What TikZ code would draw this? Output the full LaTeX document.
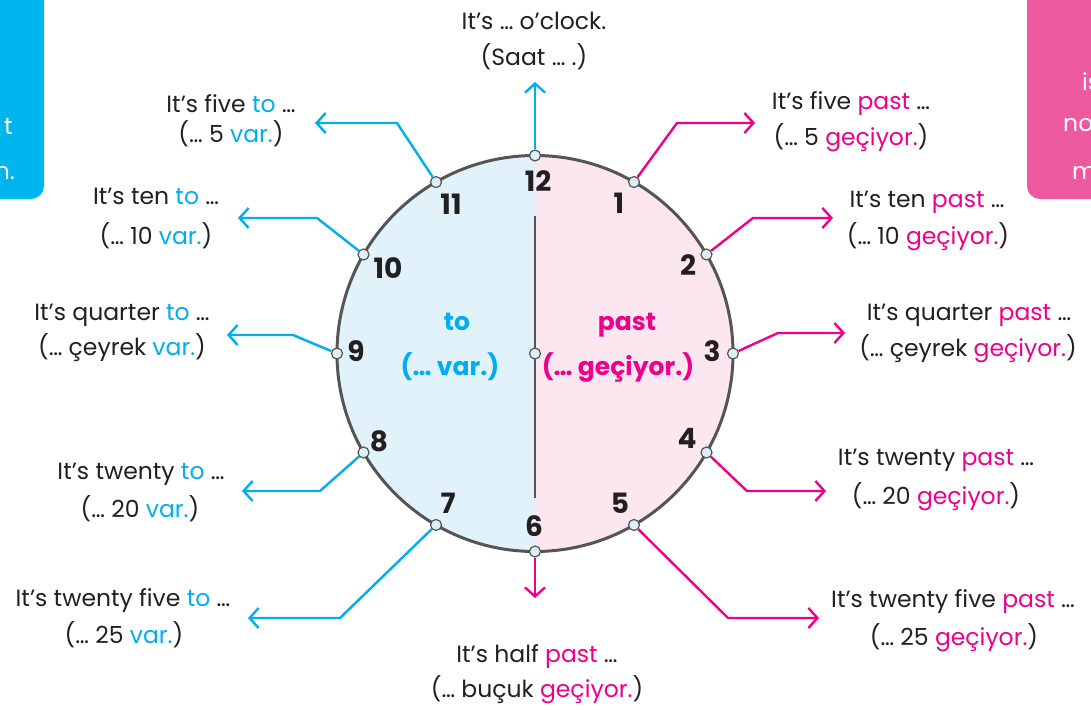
\documentclass[tikz,border=0pt]{standalone}
\usepackage{fontspec}
\setmainfont{Poppins}
\usetikzlibrary{arrows.meta}
\definecolor{cblue}{HTML}{00AEEF}
\definecolor{cpink}{HTML}{EC008C}
\definecolor{lblue}{HTML}{E1F2FA}
\definecolor{lpink}{HTML}{FCE7F1}
\definecolor{rim}{HTML}{555555}
\definecolor{boxblue}{HTML}{00B4EE}
\definecolor{boxpink}{HTML}{EE5A9F}
\definecolor{dotfill}{HTML}{DDEFF7}
\definecolor{txt}{HTML}{231F20}
\newcommand{\bl}[1]{\textcolor{cblue}{#1}}
\newcommand{\pk}[1]{\textcolor{cpink}{#1}}
\newcommand{\lblfont}{\fontsize{23.5}{28}\selectfont}
\newcommand{\numfont}{\fontsize{28}{32}\selectfont\bfseries}
\newcommand{\inFont}{\fontsize{25}{29}\selectfont\bfseries}
\begin{document}
\begin{tikzpicture}[x=1pt,y=-1pt,
  lbl/.style={inner sep=0pt, anchor=center, text height=0.7em, text depth=0pt, yshift=-4pt, font=\lblfont, text=txt},
  num/.style={inner sep=0pt, anchor=center, text height=0.7em, text depth=0pt, yshift=-5pt, font=\numfont, text=txt},
  inlbl/.style={inner sep=0pt, anchor=center, text height=0.7em, text depth=0pt, yshift=-4pt, font=\inFont},
  dot/.style={circle, draw=rim, fill=dotfill, line width=1.2pt, minimum size=11pt, inner sep=0pt},
  bconn/.style={draw=cblue, line width=2.4pt, line join=round, -{Straight Barb[length=9pt,width=20pt]}},
  pconn/.style={draw=cpink, line width=2.4pt, line join=round, -{Straight Barb[length=9pt,width=20pt]}},
  boxtxt/.style={inner sep=0pt, text height=0.7em, text depth=0pt, yshift=-4pt, font=\lblfont, text=white}]
\useasboundingbox (0,0) rectangle (1091,709);
\fill[white] (0,0) rectangle (1091,709);
% side boxes (cropped at the picture's edge, as in the reference)
\fill[boxblue, rounded corners=13pt] (-40,-40) rectangle (44,199);
\node[boxtxt, anchor=east] (bt1) at (13,127) {t};
\node[boxtxt, anchor=east] (bt2) at (15,172) {n.};
\fill[boxpink, rounded corners=13pt] (1027,-40) rectangle (1140,199);
\node[boxtxt, anchor=west] (pt1) at (1082,83) {is};
\node[boxtxt, anchor=west] (pt2) at (1063,124) {no};
\node[boxtxt, anchor=west] (pt3) at (1072,172) {m};
% clock face
\fill[lpink] (535,353.5) circle[radius=198];
\begin{scope}
  \clip (300,100) rectangle (535,600);
  \fill[lblue] (535,353.5) circle[radius=198];
\end{scope}
\draw[rim, line width=2.5pt] (535,216) -- (535,498);
\draw[rim, line width=3pt] (535,353.5) circle[radius=198];
% numbers
\foreach \n/\x/\y in {12/538/183, 1/619/205, 2/688/267, 3/712/353, 4/687/440, 5/620/505,
  6/534/528, 7/448/505, 8/379/443, 9/356/353, 10/388/270, 11/451/206}
  \node[num] (n\n) at (\x,\y) {\n};
% inner labels
\node[inlbl, text=cblue] (into) at (457,323) {to};
\node[inlbl, text=cblue] (invar) at (450,368) {(… var.)};
\node[inlbl, text=cpink] (inpast) at (627,323) {past};
\node[inlbl, text=cpink] (ingec) at (618,368) {(… geçiyor.)};
% dots
\foreach \h in {0,...,11}
  \node[dot] (d\h) at ({535+198*cos(90-30*\h)},{353.5-198*sin(90-30*\h)}) {};
\node[dot] (dc) at (535,353.5) {};
% connector coordinates
\coordinate (t0) at (535,82);
\coordinate (b11) at (397,123); \coordinate (t11) at (315,123);
\coordinate (b10) at (317,218); \coordinate (t10) at (238,218);
\coordinate (b9) at (293,335);  \coordinate (t9) at (227,335);
\coordinate (b8) at (320,491);  \coordinate (t8) at (242,491);
\coordinate (b7) at (340,618);  \coordinate (t7) at (248,618);
\coordinate (t6) at (535,598);
\coordinate (b5) at (728,618);  \coordinate (t5) at (819,618);
\coordinate (b4) at (747,491);  \coordinate (t4) at (826,491);
\coordinate (b3) at (778,333);  \coordinate (t3) at (845,333);
\coordinate (b2) at (753,218);  \coordinate (t2) at (833,218);
\coordinate (b1) at (677,123);  \coordinate (t1) at (755,123);
% connectors
\draw[bconn] (d0) -- (t0);
\draw[bconn] (d11) -- (b11) -- (t11);
\draw[bconn] (d10) -- (b10) -- (t10);
\draw[bconn] (d9) -- (b9) -- (t9);
\draw[bconn] (d8) -- (b8) -- (t8);
\draw[bconn] (d7) -- (b7) -- (t7);
\draw[pconn] (d6) -- (t6);
\draw[pconn] (d5) -- (b5) -- (t5);
\draw[pconn] (d4) -- (b4) -- (t4);
\draw[pconn] (d3) -- (b3) -- (t3);
\draw[pconn] (d2) -- (b2) -- (t2);
\draw[pconn] (d1) -- (b1) -- (t1);
% labels
\node[lbl] (l0a) at (534,22) {It’s … o’clock.};
\node[lbl] (l0b) at (534,58) {(Saat … .)};
\node[lbl] (l11a) at (231,105) {It’s five \bl{to} …};
\node[lbl] (l11b) at (231,135) {(… 5 \bl{var.})};
\node[lbl] (l10a) at (156,197) {It’s ten \bl{to} …};
\node[lbl] (l10b) at (156,237) {(… 10 \bl{var.})};
\node[lbl] (l9a) at (122,313) {It’s quarter \bl{to} …};
\node[lbl] (l9b) at (122,348) {(… çeyrek \bl{var.})};
\node[lbl] (l8a) at (141,472) {It’s twenty \bl{to} …};
\node[lbl] (l8b) at (140,510) {(… 20 \bl{var.})};
\node[lbl] (l7a) at (123,599) {It’s twenty five \bl{to} …};
\node[lbl] (l7b) at (124,636) {(… 25 \bl{var.})};
\node[lbl] (l6a) at (537,655) {It’s half \pk{past} …};
\node[lbl] (l6b) at (537,690) {(… buçuk \pk{geçiyor.})};
\node[lbl] (l5a) at (953,600) {It’s twenty five \pk{past} …};
\node[lbl] (l5b) at (954,638) {(… 25 \pk{geçiyor.})};
\node[lbl] (l4a) at (936,458) {It’s twenty \pk{past} …};
\node[lbl] (l4b) at (936,497) {(… 20 \pk{geçiyor.})};
\node[lbl] (l3a) at (969,313) {It’s quarter \pk{past} …};
\node[lbl] (l3b) at (968,349) {(… çeyrek \pk{geçiyor.})};
\node[lbl] (l2a) at (927,200) {It’s ten \pk{past} …};
\node[lbl] (l2b) at (928,237) {(… 10 \pk{geçiyor.})};
\node[lbl] (l1a) at (851,102) {It’s five \pk{past} …};
\node[lbl] (l1b) at (851,138) {(… 5 \pk{geçiyor.})};
\end{tikzpicture}
\end{document}
